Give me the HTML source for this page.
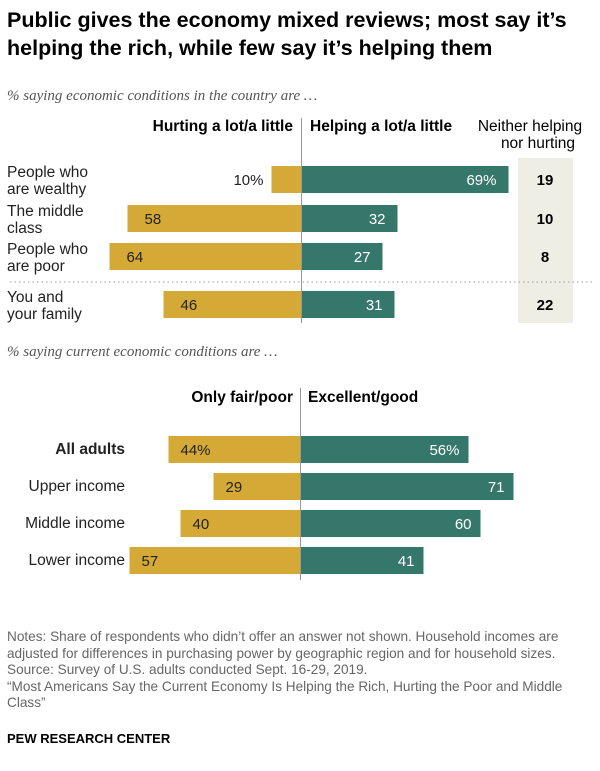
<!DOCTYPE html>
<html><head><meta charset="utf-8"><style>
body{margin:0;background:#fff;font-family:"Liberation Sans",sans-serif;}
#c{position:relative;width:600px;height:771px;overflow:hidden;}
.t{position:absolute;white-space:nowrap;}
</style></head><body><div id="c">
<div class="t" style="left:7px;top:6px;font-size:21.5px;font-weight:bold;line-height:28px;color:#000">Public gives the economy mixed reviews; most say it’s<br>helping the rich, while few say it’s helping them</div>
<div class="t" style="left:7px;top:88px;font-size:15px;font-style:italic;color:#555;font-family:'Liberation Serif',serif">% saying economic conditions in the country are …</div>
<div class="t" style="left:7px;top:344px;font-size:15px;font-style:italic;color:#555;font-family:'Liberation Serif',serif">% saying current economic conditions are …</div>
<svg id="s" width="600" height="771" style="position:absolute;left:0;top:0"></svg>
<div class="t" style="left:7px;top:629px;font-size:13.6px;line-height:16.6px;color:#666">Notes: Share of respondents who didn’t offer an answer not shown. Household incomes are<br>adjusted for differences in purchasing power by geographic region and for household sizes.<br>Source: Survey of U.S. adults conducted Sept. 16-29, 2019.<br>“Most Americans Say the Current Economy Is Helping the Rich, Hurting the Poor and Middle<br>Class”</div>
<div class="t" style="left:7px;top:731px;font-size:13px;font-weight:bold;color:#000">PEW RESEARCH CENTER</div>
</div>
<script>
const topCats=["People who|are wealthy","The middle|class","People who|are poor","You and|your family"];
const topHurt=[10,58,64,46];
const topHelp=[69,32,27,31];
const topNeither=[19,10,8,22];
const botCats=["All adults","Upper income","Middle income","Lower income"];
const botFair=[44,29,40,57];
const botGood=[56,71,60,41];
const NS="http://www.w3.org/2000/svg";
const svg=document.getElementById('s');
const G="#d4a935",T="#35776a",K=3.0;
function el(tag,a,txt){const e=document.createElementNS(NS,tag);for(const k in a)e.setAttribute(k,a[k]);if(txt!=null)e.textContent=txt;svg.appendChild(e);return e;}
function xL(cx,v){return cx-v*K;}
function xR(cx,v){return cx+v*K;}
const tcx=301.5, tY=[166,205,243,291], bh=27;
el('rect',{x:518,y:158,width:55,height:165,fill:'#efeee4',});
let e=el('line',{x1:10,y1:282,x2:592,y2:282,stroke:'#999','stroke-dasharray':'1.5,3'});

function hdr(x,y,anchor,txt,name,w){const h=el('text',{x:x,y:y,'text-anchor':anchor,'font-size':15.5,'font-weight':w||'bold',fill:'#000'},txt);}
hdr(293,131,'end','Hurting a lot/a little','header-hurting');
hdr(310,131,'start','Helping a lot/a little','header-helping');
hdr(530,131,'middle','Neither helping','header-neither','normal');
hdr(538,148,'middle','nor hurting','header-neither-2','normal');
topCats.forEach((c,i)=>{
 const y=tY[i];
 const lines=c.split('|');
 lines.forEach((l,j)=>{const t=el('text',{x:7,y:y+11+j*17,'font-size':15.5,fill:'#222'},l);});
 let r=el('rect',{x:xL(tcx,topHurt[i]),y:y,width:topHurt[i]*K,height:bh,fill:G});
 
 r=el('rect',{x:tcx,y:y,width:topHelp[i]*K,height:bh,fill:T});
 
 let t;
 if(i==0) t=el('text',{x:xL(tcx,topHurt[i])-8,y:y+19,'text-anchor':'end','font-size':15,fill:'#222'},topHurt[i]+'%');
 else t=el('text',{x:xL(tcx,topHurt[i])+17,y:y+19,'font-size':15,fill:'#222'},topHurt[i]);
 
 t=el('text',{x:xR(tcx,topHelp[i])-12,y:y+19,'text-anchor':'end','font-size':15,fill:'#fff'},topHelp[i]+(i==0?'%':''));
 
 t=el('text',{x:545,y:y+19,'text-anchor':'middle','font-size':15,'font-weight':'bold',fill:'#000'},topNeither[i]);
 
});
e=el('line',{x1:tcx,y1:118,x2:tcx,y2:323,stroke:'#999','stroke-width':1});

const bcx=300.5,bY=[436,473,510,547];
hdr(293,402,'end','Only fair/poor','header-fair');
hdr(308,402,'start','Excellent/good','header-good');
botCats.forEach((c,i)=>{
 const y=bY[i];
 let t=el('text',{x:125,y:y+18,'text-anchor':'end','font-size':15.5,'font-weight':i==0?'bold':'normal',fill:'#222'},c);
 
 let r=el('rect',{x:xL(bcx,botFair[i]),y:y,width:botFair[i]*K,height:bh,fill:G});
 
 r=el('rect',{x:bcx,y:y,width:botGood[i]*K,height:bh,fill:T});
 
 t=el('text',{x:xL(bcx,botFair[i])+12,y:y+19,'font-size':15,fill:'#222'},botFair[i]+(i==0?'%':''));
 
 t=el('text',{x:xR(bcx,botGood[i])-9,y:y+19,'text-anchor':'end','font-size':15,fill:'#fff'},botGood[i]+(i==0?'%':''));
 
});
e=el('line',{x1:bcx,y1:388,x2:bcx,y2:580,stroke:'#999','stroke-width':1});

</script></body></html>
